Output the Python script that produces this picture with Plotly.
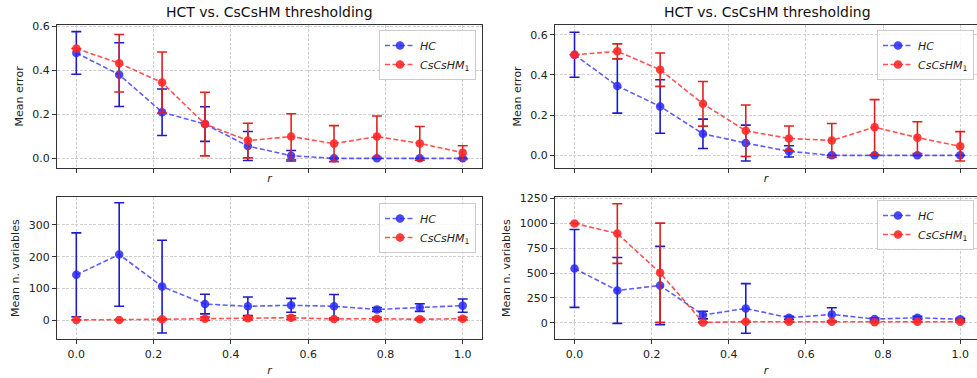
import plotly.graph_objects as go

r = [0.0, 0.111, 0.222, 0.333, 0.444, 0.556, 0.667, 0.778, 0.889, 1.0]

# top-left: mean error
tl_hc = [0.48, 0.381, 0.21, 0.156, 0.056, 0.012, 0.0, 0.0, 0.0, 0.0]
tl_hc_err = [0.097, 0.145, 0.106, 0.079, 0.066, 0.024, 0.0, 0.0, 0.0, 0.0]
tl_cs = [0.5, 0.433, 0.345, 0.156, 0.081, 0.099, 0.067, 0.099, 0.068, 0.026]
tl_cs_err = [0.0, 0.131, 0.139, 0.145, 0.079, 0.104, 0.082, 0.094, 0.077, 0.031]

# top-right: mean error
tr_hc = [0.5, 0.345, 0.243, 0.107, 0.061, 0.02, 0.0, 0.0, 0.0, 0.0]
tr_hc_err = [0.112, 0.135, 0.133, 0.073, 0.089, 0.028, 0.0, 0.0, 0.0, 0.0]
tr_cs = [0.5, 0.517, 0.426, 0.256, 0.122, 0.084, 0.074, 0.140, 0.088, 0.045]
tr_cs_err = [0.0, 0.037, 0.083, 0.111, 0.128, 0.062, 0.084, 0.137, 0.079, 0.073]

# bottom-left: mean n. variables
bl_hc = [143, 207, 106, 51, 44, 47, 44, 34, 40, 46]
bl_hc_err = [132, 163, 146, 31, 29, 22, 37, 6, 12, 21]
bl_cs = [1, 1, 3, 5, 6, 8, 4, 5, 3, 5]
bl_cs_err = [0, 0, 2, 5, 5, 6, 3, 4, 3, 4]

# bottom-right: mean n. variables
br_hc = [546, 325, 375, 77, 144, 50, 84, 37, 50, 34]
br_hc_err = [392, 332, 394, 38, 250, 15, 66, 10, 15, 10]
br_cs = [1000, 898, 503, 3, 10, 10, 10, 5, 10, 10]
br_cs_err = [0, 300, 500, 3, 5, 5, 5, 5, 5, 5]

title_text = "HCT vs. CsCsHM thresholding"
names = ["<i>HC</i>", "<i>CsCsHM</i><sub>1</sub>"]

BLUE_M = "rgba(40,40,245,0.85)"
BLUE_L = "rgba(40,40,245,0.75)"
BLUE_E = "#1c1cc8"
RED_M = "rgba(255,40,40,0.9)"
RED_L = "rgba(255,40,40,0.8)"
RED_E = "#e02020"

W, H = 977, 378
FONT = "DejaVu Sans"

fig = go.Figure()

panels = [
    ("x", "y", tl_hc, tl_hc_err, tl_cs, tl_cs_err, "legend"),
    ("x2", "y2", tr_hc, tr_hc_err, tr_cs, tr_cs_err, "legend2"),
    ("x3", "y3", bl_hc, bl_hc_err, bl_cs, bl_cs_err, "legend3"),
    ("x4", "y4", br_hc, br_hc_err, br_cs, br_cs_err, "legend4"),
]

for xa, ya, hc, hce, cs, cse, lg in panels:
    for vals, errs, nm, mc, lc, ec in [
        (hc, hce, names[0], BLUE_M, BLUE_L, BLUE_E),
        (cs, cse, names[1], RED_M, RED_L, RED_E),
    ]:
        fig.add_trace(go.Scatter(
            x=r, y=vals, xaxis=xa, yaxis=ya, name=nm, legend=lg,
            mode="lines+markers",
            line=dict(color=lc, width=1.6, dash="5px,2.5px"),
            marker=dict(color=mc, size=8.5, symbol="circle"),
            error_y=dict(type="data", array=errs, visible=True,
                         color=ec, thickness=1.6, width=5),
        ))

def px_x(p):
    return p / W

def px_y(p):
    return 1 - p / H

axis_common = dict(
    showline=True, mirror=True, linecolor="#333333", linewidth=1,
    ticks="outside", ticklen=4, tickcolor="#333333", tickwidth=1,
    showgrid=True, gridcolor="#cfcfcf", griddash="3px,1.5px", gridwidth=1,
    zeroline=False, automargin=False,
    tickfont=dict(family=FONT, size=11, color="#222222"),
)

xdomL = [px_x(57), px_x(482)]
xdomR = [px_x(555), 1.0]
ydomT = [px_y(168), px_y(24.8)]
ydomB = [px_y(339.3), px_y(197)]

xt = dict(text="<i>r</i>", font=dict(family=FONT, size=11, color="#222"), standoff=2)
xt_b = dict(text="<i>r</i>", font=dict(family=FONT, size=11, color="#222"), standoff=6)

fig.update_layout(
    width=W, height=H,
    margin=dict(l=0, r=0, t=0, b=0, autoexpand=False),
    paper_bgcolor="white", plot_bgcolor="white",
    font=dict(family=FONT, size=11, color="#222222"),
    xaxis=dict(domain=xdomL, range=[-0.05, 1.05], dtick=0.2, tick0=0,
               showticklabels=False, anchor="y", title=xt, **axis_common),
    yaxis=dict(domain=ydomT, range=[-0.044, 0.608], dtick=0.2, tick0=0,
               tickformat=".1f", anchor="x",
               title=dict(text="Mean error", font=dict(family=FONT, size=11), standoff=6),
               **axis_common),
    xaxis2=dict(domain=xdomR, range=[-0.0506, 1.0435], dtick=0.2, tick0=0,
                showticklabels=False, anchor="y2", title=xt, **axis_common),
    yaxis2=dict(domain=ydomT, range=[-0.063, 0.649], dtick=0.2, tick0=0,
                tickformat=".1f", anchor="x2",
                title=dict(text="Mean error", font=dict(family=FONT, size=11), standoff=6),
                **axis_common),
    xaxis3=dict(domain=xdomL, range=[-0.05, 1.05], dtick=0.2, tick0=0,
                tickformat=".1f", anchor="y3", title=xt_b, **axis_common),
    yaxis3=dict(domain=ydomB, range=[-60, 388], dtick=100, tick0=0,
                anchor="x3",
                title=dict(text="Mean n. variables", font=dict(family=FONT, size=11), standoff=6),
                **axis_common),
    xaxis4=dict(domain=xdomR, range=[-0.0506, 1.0435], dtick=0.2, tick0=0,
                tickformat=".1f", anchor="y4", title=xt_b, **axis_common),
    yaxis4=dict(domain=ydomB, range=[-167, 1266], dtick=250, tick0=0,
                anchor="x4",
                title=dict(text="Mean n. variables", font=dict(family=FONT, size=11), standoff=6),
                **axis_common),
    showlegend=True,
)

leg_common = dict(
    xanchor="left", yanchor="top",
    bgcolor="rgba(255,255,255,0.85)", bordercolor="#cccccc", borderwidth=1,
    font=dict(family=FONT, size=11, color="#222222"),
    tracegroupgap=0, itemwidth=30,
)
fig.update_layout(
    legend=dict(x=px_x(379), y=px_y(30), **leg_common),
    legend2=dict(x=px_x(877), y=px_y(30), **leg_common),
    legend3=dict(x=px_x(379), y=px_y(203), **leg_common),
    legend4=dict(x=px_x(877), y=px_y(200), **leg_common),
)

for xc in [(57 + 482) / 2, (555 + 979) / 2]:
    fig.add_annotation(
        text=title_text, xref="paper", yref="paper",
        x=px_x(xc), y=px_y(12), xanchor="center", yanchor="middle",
        showarrow=False, font=dict(family=FONT, size=14, color="#111111"),
    )

fig.write_html(
    "out.html",
    config={"displayModeBar": False},
    post_script="document.body.style.margin='0';document.body.style.overflow='hidden';",
)
